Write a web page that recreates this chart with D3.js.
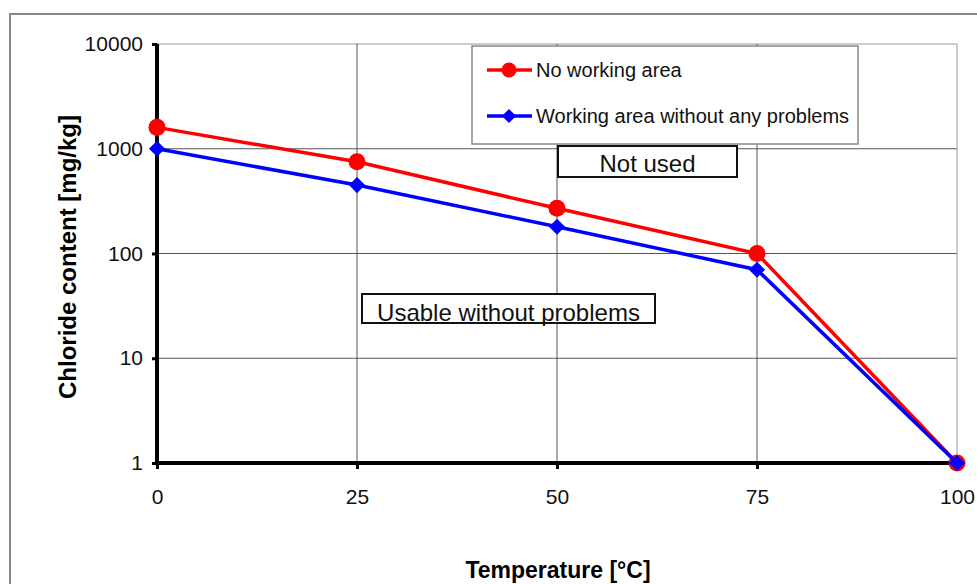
<!DOCTYPE html>
<html>
<head>
<meta charset="utf-8">
<script src="https://cdn.jsdelivr.net/npm/d3@7"></script>
<style>
  body { margin: 0; background: #fff; }
  text { font-family: "Liberation Sans", Arial, sans-serif; }
</style>
</head>
<body>
<div id="output"></div>
<script>
var temps = [0, 25, 50, 75, 100];
var noWorking = [1600, 750, 270, 100, 1];
var workingOk = [1000, 450, 180, 70, 1];
var yTicks = [1, 10, 100, 1000, 10000];
var xTicks = [0, 25, 50, 75, 100];

var W = 977, H = 584;
var svg = d3.select("#output").append("svg")
  .attr("width", W)
  .attr("height", H);

// outer frame
svg.append("path")
  .attr("d", "M10," + H + " L10,14 L" + W + ",14")
  .style("fill", "none")
  .style("stroke", "#888")
  .style("stroke-width", 2);

var x = d3.scaleLinear().domain([0, 100]).range([157, 957]);
var y = d3.scaleLog().domain([1, 10000]).range([463, 44]);

// grid
svg.append("g").selectAll("line").data(yTicks.slice(1)).enter().append("line")
  .attr("x1", x(0)).attr("x2", x(100))
  .attr("y1", function (d) { return y(d); })
  .attr("y2", function (d) { return y(d); })
  .style("stroke", d => d == 10000 ? "#999" : "#555")
  .style("stroke-width", 1);
svg.append("g").selectAll("line").data(xTicks.slice(1)).enter().append("line")
  .attr("y1", y(1)).attr("y2", y(10000))
  .attr("x1", function (d) { return x(d); })
  .attr("x2", function (d) { return x(d); })
  .style("stroke", d => d == 100 ? "#999" : "#555")
  .style("stroke-width", 1);

// axes
var yAxis = svg.append("g")
  .attr("transform", "translate(" + x(0) + ",0)")
  .call(d3.axisLeft(y).tickValues(yTicks).tickFormat(d3.format("d")).tickSize(5).tickPadding(9));
var xAxis = svg.append("g")
  .attr("transform", "translate(0," + y(1) + ")")
  .call(d3.axisBottom(x).tickValues(xTicks).tickSize(6).tickPadding(20));
[yAxis, xAxis].forEach(function (a) {
  a.attr("font-size", null).attr("font-family", null);
  a.select(".domain").style("stroke", "#000").style("stroke-width", 4);
  a.selectAll(".tick line").style("stroke", "#000").style("stroke-width", 3);
  a.selectAll("text")
    .style("font-size", "21px")
    .style("fill", "#111");
});
yAxis.selectAll(".domain").attr("d", "M0," + y(10000) + "V" + y(1));
xAxis.selectAll(".domain").attr("d", "M" + x(0) + ",0H" + x(100));

// axis titles
svg.append("text")
  .attr("x", 558).attr("y", 578)
  .attr("text-anchor", "middle")
  .style("font-size", "23px").style("font-weight", "bold")
  .text("Temperature [°C]");
svg.append("text")
  .attr("transform", "translate(76,257) rotate(-90)")
  .attr("text-anchor", "middle")
  .style("font-size", "24px").style("font-weight", "bold")
  .text("Chloride content [mg/kg]");

// region labels
function boxLabel(x0, y0, w, h, label, size, ty) {
  svg.append("rect")
    .attr("x", x0).attr("y", y0).attr("width", w).attr("height", h)
    .style("fill", "#fff").style("stroke", "#111").style("stroke-width", 2);
  svg.append("text")
    .attr("x", x0 + w / 2).attr("y", ty)
    .attr("text-anchor", "middle")
    .style("font-size", size + "px").style("fill", "#111")
    .text(label);
}
boxLabel(558, 146, 179, 31, "Not used", 24, 172);
boxLabel(362, 294, 293, 29, "Usable without problems", 24, 321);

// series
var line = d3.line()
  .x(function (d, i) { return x(temps[i]); })
  .y(function (d) { return y(d); });

svg.append("path").datum(noWorking)
  .attr("d", line)
  .style("fill", "none").style("stroke", "#f00").style("stroke-width", 3.5);
svg.append("g").selectAll("circle").data(noWorking).enter().append("circle")
  .attr("cx", function (d, i) { return x(temps[i]); })
  .attr("cy", function (d) { return y(d); })
  .attr("r", 8.5)
  .style("fill", "#f00");

svg.append("path").datum(workingOk)
  .attr("d", line)
  .style("fill", "none").style("stroke", "#00f").style("stroke-width", 3.5);
var diamond = d3.symbol().type(d3.symbolSquare).size(130);
svg.append("g").selectAll("path").data(workingOk).enter().append("path")
  .attr("d", diamond)
  .attr("transform", function (d, i) { return "translate(" + x(temps[i]) + "," + y(d) + ") rotate(45)"; })
  .style("fill", "#00f");

// legend
var lg = svg.append("g");
lg.append("rect")
  .attr("x", 472).attr("y", 46).attr("width", 386).attr("height", 98)
  .style("fill", "#fff").style("stroke", "#888").style("stroke-width", 1.5);
var legendItems = [
  {label: "No working area", color: "#f00", shape: "circle", y: 70},
  {label: "Working area without any problems", color: "#00f", shape: "diamond", y: 116}
];
legendItems.forEach(function (it) {
  lg.append("line")
    .attr("x1", 487).attr("x2", 532).attr("y1", it.y).attr("y2", it.y)
    .style("stroke", it.color).style("stroke-width", 3.5);
  if (it.shape == "circle") {
    lg.append("circle").attr("cx", 509).attr("cy", it.y).attr("r", 7.5).style("fill", it.color);
  } else {
    lg.append("path").attr("d", d3.symbol().type(d3.symbolSquare).size(100))
      .attr("transform", "translate(509," + it.y + ") rotate(45)").style("fill", it.color);
  }
  lg.append("text")
    .attr("x", 536).attr("y", it.y + 7)
    .style("font-size", "20px").style("fill", "#111")
    .text(it.label);
});
</script>
</body>
</html>
